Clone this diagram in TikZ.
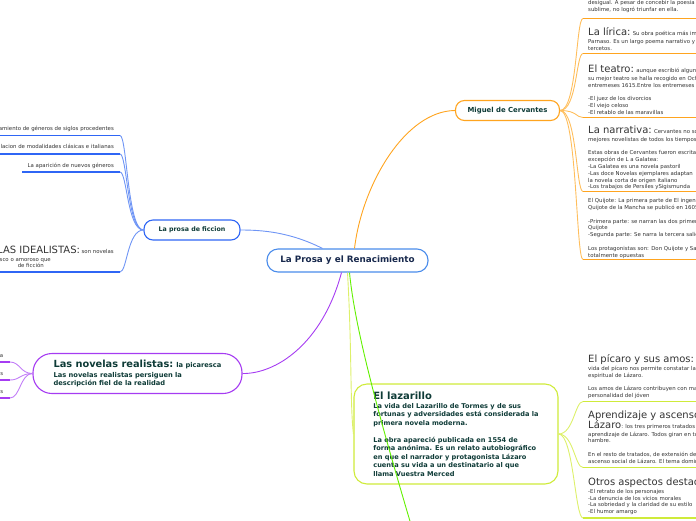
\documentclass[tikz,border=0pt]{standalone}
\usepackage{fontspec}
\setmainfont{DejaVu Sans}
\definecolor{azulc}{HTML}{4A8CEB}
\definecolor{azul}{HTML}{2F66F5}
\definecolor{azulr}{HTML}{6F95F5}
\definecolor{naranja}{HTML}{FFA41F}
\definecolor{naranjar}{HTML}{FFBE5C}
\definecolor{morado}{HTML}{A63CF2}
\definecolor{morador}{HTML}{C27EF7}
\definecolor{amarillo}{HTML}{CFEB3A}
\definecolor{amarillor}{HTML}{DDF06A}
\definecolor{verde}{HTML}{62F000}
\definecolor{verdeosc}{HTML}{0E3B37}
\definecolor{azulosc}{HTML}{18294D}
\definecolor{gristxt}{HTML}{333333}
\newcommand{\apretado}{\lineskiplimit=-20pt\relax}
\newcommand{\chico}{\fontsize{5.4}{6.8}\selectfont\apretado}
\newcommand{\grande}{\fontsize{10}{10}\selectfont}
\begin{document}
\begin{tikzpicture}[x=1pt, y=-1pt,
    tema/.style={draw, fill=white, line width=1.1pt, rounded corners=9pt, inner sep=0,
                 text=verdeosc, font=\bfseries\fontsize{6.9}{8}\selectfont},
    nota/.style={anchor=north west, align=left, inner sep=0, text=gristxt, font=\chico},
    notader/.style={anchor=base east, inner sep=0, text=gristxt, font=\chico},
    rama/.style={line width=0.9pt},
    subraya/.style={line width=1.4pt}
]
    \useasboundingbox (0,0) rectangle (696,520);
    \clip (0,0) rectangle (696,520);

    % central topic and the main branches
    \node[tema, draw=azulc, minimum width=161pt, minimum height=23pt, rounded corners=11pt,
          text=azulosc, font=\bfseries\fontsize{8.8}{10}\selectfont] (prosa) at (347.5,260.5)
          {La Prosa y el Renacimiento};
    \node[tema, draw=naranja, minimum width=104pt, minimum height=20pt] (cerv) at (507.5,110.5)
          {Miguel de Cervantes};
    \node[tema, draw=azul, minimum width=96pt, minimum height=20pt,
          font=\bfseries\fontsize{6.3}{8}\selectfont] (ficcion) at (192,230) {La prosa de ficcion};
    \node[tema, draw=morado, minimum width=209pt, minimum height=40pt, rounded corners=19pt,
          align=left, font=\bfseries\fontsize{6.7}{8}\selectfont\apretado] (realistas) at (137.5,373.5)
          {{\fontsize{9.8}{10}\selectfont Las novelas realistas:} la picaresca\\[2pt]
           Las novelas realistas persiguen la\\descripción fiel de la realidad};
    \node[tema, draw=amarillo, minimum width=204pt, minimum height=100pt, rounded corners=13pt,
          align=left, font=\bfseries\fontsize{6.6}{8.5}\selectfont\apretado] (lazarillo) at (456,434)
          {{\fontsize{10}{11}\selectfont El lazarillo}\\[0.8pt]
           La vida del Lazarillo de Tormes y de sus\\fortunas y adversidades está considerada la\\
           primera novela moderna.\\[8.5pt]
           La obra apareció publicada en 1554 de\\forma anónima. Es un relato autobiográfico\\
           en que el narrador y protagonista Lázaro\\cuenta su vida a un destinatario al que\\
           llama Vuestra Merced};
    \coordinate (abajo) at (412,528);

    \draw[rama, naranja] ([xshift=7pt]prosa.north) .. controls (362,185) and (405,111) .. (cerv.west);
    \draw[rama, azulr] ([xshift=-25pt]prosa.north) .. controls (290,232) and (262,230) .. (ficcion.east);
    \draw[rama, morado] ([xshift=-6pt]prosa.south) .. controls (322,345) and (275,374) .. (realistas.east);
    \draw[rama, amarillor] (prosa.south) .. controls (352,350) and (350,405) .. (lazarillo.west);
    \draw[rama, verde] ([xshift=2pt]prosa.south) .. controls (355,330) and (380,420) .. (abajo);

    % Cervantes
    \node[nota] (poesia) at (588,0.4) {desigual. A pesar de concebir la poesía como algo\\
          sublime, no logró triunfar en ella.};
    \node[nota] (lirica) at (588,27.6) {{\grande La lírica:} Su obra poética más importante es el Viaje del\\[1.2pt]
          Parnaso. Es un largo poema narrativo y satírico en\\tercetos.};
    \node[nota] (teatro) at (588,64.4) {{\grande El teatro:} aunque escribió algunas comedias,\\[1.2pt]
          su mejor teatro se halla recogido en Ocho comedias y ocho\\
          entremeses 1615.Entre los entremeses destacan:\\[6.8pt]
          -El juez de los divorcios\\-El viejo celoso\\-El retablo de las maravillas};
    \node[nota] (narrativa) at (588,125.4) {{\grande La narrativa:} Cervantes no solo es uno de los\\[1.2pt]
          mejores novelistas de todos los tiempos.\\[6.8pt]
          Estas obras de Cervantes fueron escritas en prosa, a\\excepción de L a Galatea:\\
          -La Galatea es una novela pastoril\\-Las doce Novelas ejemplares adaptan\\
          la novela corta de origen italiano\\-Los trabajos de Persiles ySigismunda};
    \node[nota] (quijote) at (588,198.4) {El Quijote: La primera parte de El ingenioso hidalgo Don\\
          Quijote de la Mancha se publicó en 1605\\[6.8pt]
          -Primera parte: se narran las dos primeras salidas de Don\\Quijote\\
          -Segunda parte: Se narra la tercera salida\\[6.8pt]
          Los protagonistas son: Don Quijote y Sancho, de personalidades\\totalmente opuestas};
    \coordinate (c0) at (583,18.5);
    \coordinate (c1) at (583,53.5);
    \coordinate (c2) at (583,117.5);
    \coordinate (c3) at (583,191.5);
    \coordinate (c4) at (583,259.5);
    \foreach \c in {c0,c1,c2,c3,c4}
        \draw[rama, naranjar] (cerv.east) .. controls +(17,0) and ([xshift=-7pt]\c) .. (\c);
    \foreach \c in {c0,c1,c2,c3,c4}
        \draw[subraya, naranja] (\c) -- ++(120,0);

    % La prosa de ficcion
    \node[notader] (generos) at (114,130) {El aprovechamiento de géneros de siglos procedentes};
    \node[notader] (modal) at (114,148.5) {La asimilacion de modalidades clásicas e italianas};
    \node[notader] (nuevos) at (114,167.5) {La aparición de nuevos géneros};
    \node[notader] (ideal) at (114,253) {{\grande LAS NOVELAS IDEALISTAS:} son novelas};
    \node[notader] (ideal2) at (51,261) {de tema caballeresco, pastoril, morisco o amoroso que};
    \node[notader] (ideal3) at (44,267.5) {de ficción};
    \coordinate (f1) at (120,135.5);
    \coordinate (f2) at (120,154);
    \coordinate (f3) at (120,172);
    \coordinate (f4) at (120,272);
    \foreach \c in {f1,f2,f3,f4}
        \draw[rama, azulr] (ficcion.west) .. controls +(-16,0) and ([xshift=7pt]\c) .. (\c);
    \draw[subraya, azul] (f1) -- ++(-125,0);
    \draw[subraya, azul] (f2) -- ++(-125,0);
    \draw[subraya, azul] (f3) -- (22,172);
    \draw[subraya, azul] (f4) -- ++(-125,0);

    % novelas realistas
    \node[notader] (r1) at (3.5,357) {a};
    \node[notader] (r2) at (3.5,375) {s};
    \node[notader] (r3) at (3.5,393) {s};
    \coordinate (m1) at (10,362);
    \coordinate (m2) at (10,380);
    \coordinate (m3) at (10,398);
    \foreach \c in {m1,m2,m3}
        \draw[rama, morador] (realistas.west) .. controls +(-12,0) and ([xshift=10pt]\c) .. (\c);
    \foreach \c in {m1,m2,m3}
        \draw[subraya, morado] (\c) -- ++(-12,0);

    % El lazarillo
    \node[nota] (picaro) at (588,354) {{\grande El pícaro y sus amos:}\\[1.2pt]
          vida del pícaro nos permite constatar la evolución\\espiritual de Lázaro.\\[6.8pt]
          Los amos de Lázaro contribuyen con matices a la\\personalidad del jóven};
    \node[nota] (ascenso) at (588,410.4) {{\grande Aprendizaje y ascenso social de}\\[3pt]
          {\grande Lázaro}: los tres primeros tratados muestran el\\[1.2pt]
          aprendizaje de Lázaro. Todos giran en torno al\\hambre.\\[6.8pt]
          En el resto de tratados, de extensión desigual, se narra el\\
          ascenso social de Lázaro. El tema dominante es la honra.};
    \node[nota] (otros) at (588,477.4) {{\grande Otros aspectos destacables}\\[1.2pt]
          -El retrato de los personajes\\-La denuncia de los vicios morales\\
          -La sobriedad y la claridad de su estilo\\-El humor amargo};
    \coordinate (z1) at (583,401.5);
    \coordinate (z2) at (583,467.5);
    \coordinate (z3) at (583,518);
    \foreach \c in {z1,z2,z3}
        \draw[rama, amarillor] (lazarillo.east) .. controls +(15,0) and ([xshift=-8pt]\c) .. (\c);
    \foreach \c in {z1,z2,z3}
        \draw[subraya, amarillo] (\c) -- ++(120,0);
\end{tikzpicture}
\end{document}
